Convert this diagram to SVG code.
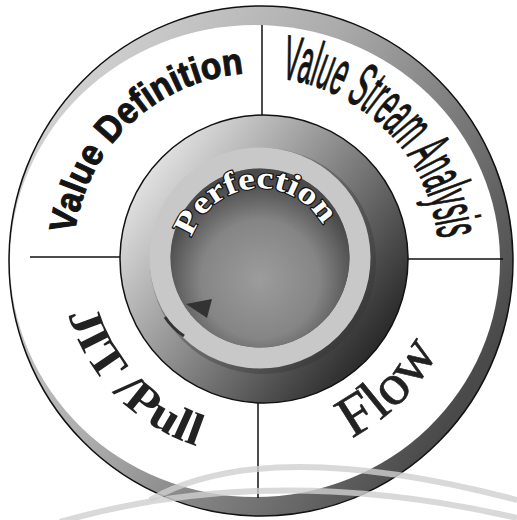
<svg xmlns="http://www.w3.org/2000/svg" width="517" height="520" viewBox="0 0 517 520">
<style>
.vd{font-family:"Liberation Sans",Arial,sans-serif;font-weight:bold;font-size:37px;fill:#141414;stroke:#141414;stroke-width:1.1}
.vsa{font-family:"Liberation Sans",Arial,sans-serif;font-size:63px;fill:#141414;stroke:#141414;stroke-width:1.2}
.jit{font-family:"Liberation Serif","Times New Roman",serif;font-weight:bold;font-size:46px;fill:#222}
.flow{font-family:"Liberation Serif","Times New Roman",serif;font-size:58px;fill:#222;stroke:#222;stroke-width:0.6}
.perf{font-family:"Liberation Serif","Times New Roman",serif;font-weight:bold;font-size:31px;fill:#fff;stroke:#111;stroke-width:2.2;paint-order:stroke}
.div{stroke:#111;stroke-width:1.5;fill:none}
.wm{fill:none;stroke:#cfcfcf;stroke-width:6;opacity:0.8}
</style>
<defs>
<linearGradient id="rim" x1="0" y1="0" x2="1" y2="0.6">
<stop offset="0" stop-color="#e2e2e2"/>
<stop offset="0.5" stop-color="#ababab"/>
<stop offset="1" stop-color="#4a4a4a"/>
</linearGradient>
<linearGradient id="hub" x1="0.1" y1="0.2" x2="0.9" y2="0.8">
<stop offset="0" stop-color="#e0e0e0"/>
<stop offset="0.45" stop-color="#8f8f8f"/>
<stop offset="1" stop-color="#2a2a2a"/>
</linearGradient>
<radialGradient id="core" cx="0.5" cy="0.62" r="0.55">
<stop offset="0" stop-color="#9c9c9c"/>
<stop offset="0.6" stop-color="#858585"/>
<stop offset="1" stop-color="#4a4a4a"/>
</radialGradient>
<path id="pVD" d="M 73.7 241.8 A 185 185 0 0 1 274.1 73.7"/>
<path id="pVSA" d="M 258 77 A 181 181 0 0 1 439 258"/>
<path id="pJIT" d="M 63 292.4 A 198 198 0 0 0 240.7 455.2"/>
<path id="pFlow" d="M 310.5 454.1 A 203 203 0 0 0 454.1 310.5"/>
<path id="pPerf" d="M 190.5 241.4 A 72 72 0 0 1 329.5 241.4"/>
</defs>
<rect width="517" height="520" fill="#fff"/>
<g id="wheel">
<ellipse cx="261" cy="261" rx="252" ry="255" fill="url(#rim)" stroke="#111" stroke-width="1.5"/>
<ellipse cx="255" cy="261" rx="245" ry="236" fill="#fff"/>
</g>
<g id="value-definition">
<text class="vd"><textPath href="#pVD" startOffset="8" textLength="252" lengthAdjust="spacingAndGlyphs">Value Definition</textPath></text>
</g>
<g id="value-stream-analysis">
<text class="vsa"><textPath href="#pVSA" startOffset="23" textLength="242" lengthAdjust="spacingAndGlyphs">Value Stream Analysis</textPath></text>
</g>
<g id="jit-pull">
<text class="jit"><textPath href="#pJIT" startOffset="22" textLength="192" lengthAdjust="spacingAndGlyphs">JIT /Pull</textPath></text>
</g>
<g id="flow">
<text class="flow"><textPath href="#pFlow" startOffset="44" textLength="124" lengthAdjust="spacingAndGlyphs">Flow</textPath></text>
</g>
<g id="connectors">
<line class="div" x1="262" y1="25" x2="262" y2="115"/>
<line class="div" x1="30" y1="257" x2="120" y2="257"/>
<line class="div" x1="408" y1="259" x2="503" y2="259"/>
<line class="div" x1="258" y1="403" x2="258" y2="498"/>
</g>
<g id="perfection">
<circle cx="264" cy="259" r="144" fill="url(#hub)" stroke="#111" stroke-width="1.5"/>
<circle cx="263" cy="261" r="101" fill="none" stroke="#333" stroke-width="24" opacity="0.35"/>
<circle cx="260" cy="258" r="100" fill="none" stroke="#c8c8c8" stroke-width="21"/>
<circle cx="260" cy="258" r="89.5" fill="url(#core)"/>
<polygon points="186,304 212,299 207,318" fill="#333"/>
<path d="M 165 317 Q 172 328 184 336" fill="none" stroke="#333" stroke-width="3"/>
<text class="perf"><textPath href="#pPerf" startOffset="4" textLength="166" lengthAdjust="spacingAndGlyphs">Perfection</textPath></text>
</g>
<g id="watermark">
<path class="wm" d="M 150 500 Q 266.5 434 517 500"/>
<path class="wm" d="M 60 522 Q 271.5 461 517 518"/>
</g>
</svg>
